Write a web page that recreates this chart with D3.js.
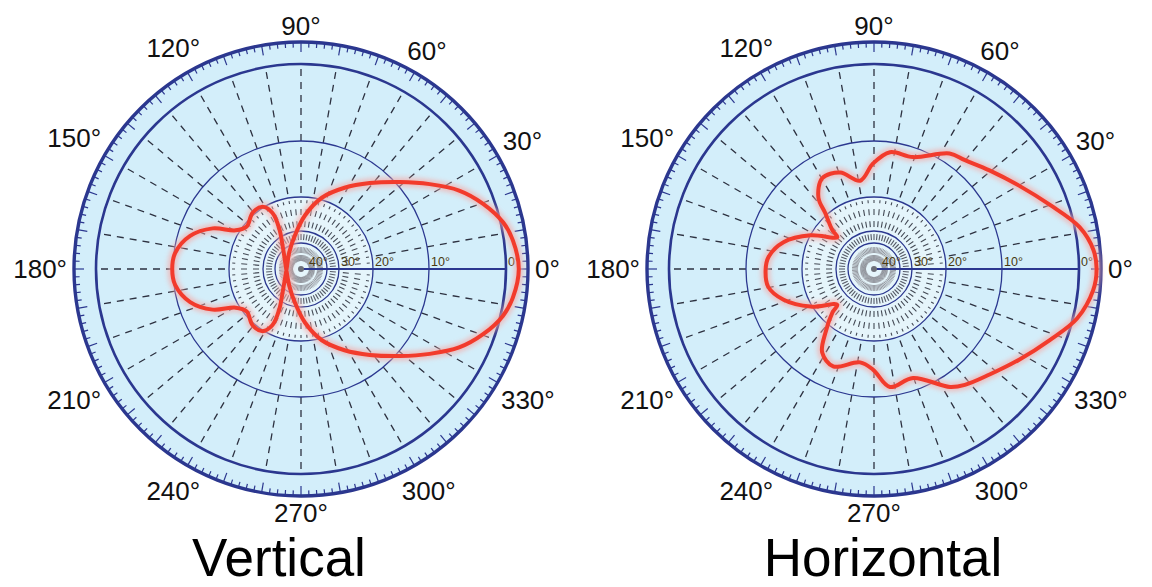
<!DOCTYPE html>
<html><head><meta charset="utf-8">
<script src="https://cdn.jsdelivr.net/npm/d3@7"></script>
<style>body{margin:0;background:#fff}svg{display:block}</style>
</head><body><svg id="c" width="1152" height="587"></svg>
<script>
// ---- data ----
const angleLabels = [0,30,60,90,120,150,180,210,240,270,300,330];
const dbLabels = [0,10,20,30,40];
const gridLevels = [0,10,20,30,35];
const titles = ["Vertical","Horizontal"];

// traced pattern (path order): angle in degrees (0 = right, CCW), level in dB below max
const vertAngles = [0,7.7,13,19.7,26.4,33.4,41.3,51.3,61.8,73.7,85.8,100,125.2,180,229.4,241.8,243,238.2,229.3,218,210.6,204.7,196.6,187.2,180,172.8,163.4,155.3,149.4,142,130.7,121.8,117,118.2,130.6,234.8,260,274.2,286.3,298.2,308.7,318.7,326.6,333.6,340.3,347,352.3];
const vertDb = [-1.6,-1.1,-0.3,1.5,3.7,6.6,9.5,13.2,16.4,19.6,25.4,31.5,36.4,37.9,34.3,27.6,22.6,19.8,19.6,20.9,19.3,15.5,12.2,10.2,9.9,10.2,12.2,15.5,19.3,20.9,19.6,19.8,22.6,27.6,34.3,36.4,31.5,25.4,19.6,16.4,13.2,9.5,6.6,3.7,1.5,-0.3,-1.1];

const horzAngles = [0,5,11.5,20,29.9,40.5,50.1,56.8,70.8,82.2,90.5,98.9,109.3,119.7,127.9,131.2,137.1,139.1,152,163.5,173.5,180.5,189.6,198.8,210.7,224.2,226.3,232.6,238.2,247.3,261.5,269.4,277.7,289.7,302.8,308.1,317.6,328,338,346.3,354.5];
const horzDb = [-2.2,-1.9,-0.6,2.3,4.9,6.9,8.2,8.7,11.7,11.8,14.0,16.9,14.6,14.2,16.7,19.7,24.5,26.9,20.1,16.0,13.9,13.5,13.7,15.8,19.7,26.1,23.5,18.6,15.3,14.0,16.0,14.9,11.6,12.2,8.4,7.5,6.3,4.4,2.0,-0.5,-1.9];

// ---- layout ----
const NAVY = "#2b378f";
const R_OUT = 227;
const r = d3.scaleLinear().domain([-3,0,10,20,30,35,40]).range([229,205,128,72,38,26,6]);
const toRad = a => (90 - a) * Math.PI / 180; // d3 radial angle
const svg = d3.select("#c");
const defs = svg.append("defs");
defs.append("filter").attr("id","glow").attr("x","-20%").attr("y","-20%").attr("width","140%").attr("height","140%")
  .append("feGaussianBlur").attr("stdDeviation",2.5);

const charts = [
  {title: titles[0], angles: vertAngles, db: vertDb, cx: 301, cy: 269, tx: 279},
  {title: titles[1], angles: horzAngles, db: horzDb, cx: 874, cy: 269, tx: 883}
];

function polar(a, rr){ const t = a*Math.PI/180; return [rr*Math.cos(t), -rr*Math.sin(t)]; }

charts.forEach(c => {
  const g = svg.append("g").attr("transform", `translate(${c.cx},${c.cy})`);
  // disc
  g.append("circle").attr("r", R_OUT).attr("fill", "#d3eefa");
  g.append("circle").attr("r", r(20)).attr("fill", "#e5f5fb");

  // outer tick ring
  const ticks = d3.range(0, 360, 2);
  g.selectAll("line.tk").data(ticks).join("line")
    .attr("x1", d => polar(d, R_OUT)[0]).attr("y1", d => polar(d, R_OUT)[1])
    .attr("x2", d => polar(d, R_OUT - (d % 10 === 0 ? 10 : 5.5))[0])
    .attr("y2", d => polar(d, R_OUT - (d % 10 === 0 ? 10 : 5.5))[1])
    .attr("stroke", NAVY).attr("stroke-width", 1.2);

  // dashed spokes, main annulus
  const spokes10 = d3.range(10, 360, 10);
  g.selectAll("line.sp").data(spokes10).join("line")
    .attr("x1", d => polar(d, r(20) + 4)[0]).attr("y1", d => polar(d, r(20) + 4)[1])
    .attr("x2", d => polar(d, r(0) - 2)[0]).attr("y2", d => polar(d, r(0) - 2)[1])
    .attr("stroke", "#2d3140").attr("stroke-width", 1.3).attr("stroke-dasharray", "7,6");
  // inner spokes
  const spokes5 = d3.range(0, 360, 5);
  g.selectAll("line.sp2").data(spokes5.filter(d => d !== 0)).join("line")
    .attr("x1", d => polar(d, r(30) + 4)[0]).attr("y1", d => polar(d, r(30) + 4)[1])
    .attr("x2", d => polar(d, r(20) - 3)[0]).attr("y2", d => polar(d, r(20) - 3)[1])
    .attr("stroke", "#444a55").attr("stroke-width", 1.1).attr("stroke-dasharray", "6,6");
  g.selectAll("line.sp3").data(spokes5.filter(d => d !== 0)).join("line")
    .attr("x1", d => polar(d, r(35) + 3)[0]).attr("y1", d => polar(d, r(35) + 3)[1])
    .attr("x2", d => polar(d, r(30) - 3)[0]).attr("y2", d => polar(d, r(30) - 3)[1])
    .attr("stroke", "#555a66").attr("stroke-width", 1.1);
  const spokes4 = d3.range(0, 360, 4);
  g.selectAll("line.sp4").data(spokes4).join("line")
    .attr("x1", d => polar(d, 8)[0]).attr("y1", d => polar(d, 8)[1])
    .attr("x2", d => polar(d, r(35) - 3)[0]).attr("y2", d => polar(d, r(35) - 3)[1])
    .attr("stroke", "#8c8f96").attr("stroke-width", 0.9).attr("stroke-dasharray", "6,2");

  // grid circles
  g.selectAll("circle.gr").data(gridLevels.filter(d => d !== 0)).join("circle")
    .attr("r", d => r(d)).attr("fill", "none").attr("stroke", NAVY).attr("stroke-width", 1.3);
  g.append("circle").attr("r", r(0)).attr("fill", "none").attr("stroke", NAVY).attr("stroke-width", 2.6);
  g.append("circle").attr("r", R_OUT).attr("fill", "none").attr("stroke", NAVY).attr("stroke-width", 3.4);

  // 0° axis
  g.append("line").attr("x1", 0).attr("y1", 0).attr("x2", r(0)).attr("y2", 0)
    .attr("stroke", NAVY).attr("stroke-width", 2);
  g.append("circle").attr("r", 3).attr("fill", "#6d7078");

  // dB labels
  g.selectAll("text.db").data(dbLabels).join("text")
    .attr("x", d => r(d) + 2).attr("y", -3)
    .attr("font-family", "Liberation Sans, Arial, sans-serif").attr("font-size", 12.5)
    .attr("fill", "#4a3a10").text(d => d + "°");

  // pattern
  const pts = c.angles.map((a, i) => ({a, db: c.db[i]}));
  const line = d3.lineRadial().angle(d => toRad(d.a)).radius(d => r(d.db))
    .curve(d3.curveCatmullRomClosed.alpha(0.5));
  g.append("path").attr("d", line(pts)).attr("fill", "none").attr("stroke", "#f7a8a4")
    .attr("stroke-width", 9).attr("opacity", 0.7).attr("filter", "url(#glow)");
  g.append("path").attr("d", line(pts)).attr("fill", "none").attr("stroke", "#f23b2c")
    .attr("stroke-width", 4).attr("stroke-linejoin", "round");

  // angle labels
  angleLabels.forEach(a => {
    const t = g.append("text").attr("font-family", "Liberation Sans, Arial, sans-serif")
      .attr("font-size", 26).attr("fill", "#111").attr("text-anchor", "middle").text(a + "°");
    const w = t.node().getComputedTextLength();
    const h = 18.6;
    const rad = a * Math.PI / 180;
    const d = R_OUT + 7 + (w / 2) * Math.abs(Math.cos(rad)) + (h / 2) * Math.abs(Math.sin(rad));
    const [x, y] = polar(a, d);
    t.attr("x", x).attr("y", y + h / 2);
  });

  // title
  svg.append("text").attr("x", c.tx).attr("y", 575.5).attr("text-anchor", "middle")
    .attr("font-family", "Liberation Sans, Arial, sans-serif").attr("font-size", 53)
    .attr("fill", "#000").text(c.title);
});
</script></body></html>
